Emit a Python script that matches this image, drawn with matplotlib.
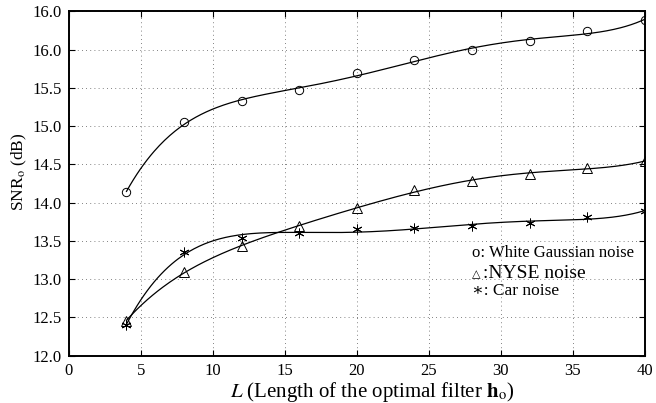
import numpy as np
import matplotlib
matplotlib.use("Agg")
import matplotlib.pyplot as plt

plt.rcParams['font.family'] = ['Liberation Serif', 'DejaVu Serif']
plt.rcParams['mathtext.fontset'] = 'stix'

L = [4, 8, 12, 16, 20, 24, 28, 32, 36, 40]
white = [14.14, 15.05, 15.33, 15.47, 15.69, 15.87, 16.00, 16.11, 16.24, 16.39]
nyse = [12.46, 13.09, 13.44, 13.69, 13.93, 14.17, 14.28, 14.375, 14.46, 14.54]
car = [12.40, 13.36, 13.54, 13.60, 13.65, 13.665, 13.70, 13.74, 13.81, 13.89]

yticks = [12.0, 12.5, 13.0, 13.5, 14.0, 14.5, 15.0, 15.5, 16.0, 16.5]
ytick_labels = ['12.0', '12.5', '13.0', '13.5', '14.0', '14.5', '15.0', '15.5', '16.0', '16.0']

fig = plt.figure(figsize=(6.56, 4.03), dpi=100)
ax = fig.add_axes([0.105, 0.1174, 0.878, 0.8541])

xs = np.linspace(4, 40, 300)
for vals, mk, ms in [(white, 'o', 6), (nyse, '^', 6.5), (car, (6, 2, 0), 7)]:
    fit = np.polynomial.Polynomial.fit(L, vals, 5)
    ax.plot(xs, fit(xs), color='black', linewidth=0.9)
    ax.plot(L, vals, linestyle='none', marker=mk, markersize=ms,
            markerfacecolor='none', markeredgecolor='black', markeredgewidth=0.7)

ax.set_xlim(0, 40)
ax.set_ylim(12, 16.5)
ax.set_xticks(range(0, 41, 5))
ax.set_yticks(yticks)
ax.set_yticklabels(ytick_labels)
ax.grid(True, linestyle=(0, (1, 4)), color='0.35', linewidth=0.6)
ax.tick_params(direction='in', top=True, right=True, length=4, labelsize=12, pad=5)
for s in ax.spines.values():
    s.set_linewidth(1.4)

ax.set_xlabel(r'$L$ (Length of the optimal filter $\mathbf{h}_\mathrm{o}$)', fontsize=15)
ax.set_ylabel(r'SNR$_\mathrm{o}$ (dB)', fontsize=12.5)
ax.xaxis.set_label_coords(0.527, -0.07)
ax.yaxis.set_label_coords(-0.07, 0.535)

ax.text(28.0, 13.34, 'o: White Gaussian noise', fontsize=12, va='center')
ax.text(28.0, 13.06, '\u25b3', fontsize=8, va='center')
ax.text(28.75, 13.07, ':NYSE noise', fontsize=14, va='center')
ax.text(28.0, 12.84, '\u2217: Car noise', fontsize=12.5, va='center')

plt.savefig("out.png", dpi=100)
